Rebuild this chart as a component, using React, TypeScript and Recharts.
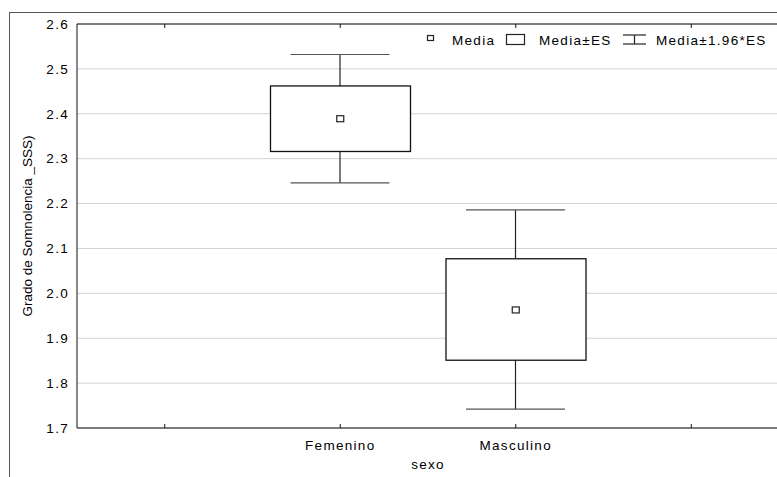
import { ComposedChart, Bar, Line, XAxis, YAxis, CartesianGrid, Legend } from 'recharts';

// categorías del eje X (las de los extremos quedan vacías)
const categories = ['_izq', 'Femenino', 'Masculino', '_der'];
const medias = [null, 2.389, 1.963, null];
const esLow = [null, 2.316, 1.851, null];
const esHigh = [null, 2.462, 2.077, null];
const ciLow = [null, 2.246, 1.742, null];
const ciHigh = [null, 2.532, 2.186, null];
const yTicks = [1.7, 1.8, 1.9, 2.0, 2.1, 2.2, 2.3, 2.4, 2.5, 2.6];

const data = categories.map((name, i) => ({
  name,
  media: medias[i],
  es: esLow[i] == null ? null : [esLow[i], esHigh[i]],
  ci: ciLow[i] == null ? null : [ciLow[i], ciHigh[i]],
}));

const FONT = '"Liberation Sans", Arial, sans-serif';
const tickStyle = { fill: '#000', fontSize: 13.5, fontFamily: FONT, letterSpacing: 1.3 };

const WhiskerShape = (p: any) => {
  if (!p.payload?.ci) return null;
  const { x, y, width, height } = p;
  const top = Math.min(y, y + height);
  const bot = Math.max(y, y + height);
  const cx = x + width / 2;
  return (
    <g stroke="#222" strokeWidth={1.2}>
      <line x1={cx} x2={cx} y1={top} y2={bot} />
      <line x1={x} x2={x + width} y1={top} y2={top} stroke="#555" />
      <line x1={x} x2={x + width} y1={bot} y2={bot} stroke="#555" />
    </g>
  );
};

const BoxShape = (p: any) => {
  if (!p.payload?.es) return null;
  const { x, y, width, height } = p;
  return (
    <rect x={x} y={Math.min(y, y + height)} width={width} height={Math.abs(height)}
      fill="#fff" stroke="#111" strokeWidth={1.3} />
  );
};

const MeanDot = (p: any) => {
  if (p.value == null || p.cy == null) return null;
  return <rect key={p.index} x={p.cx - 3.5} y={p.cy - 3} width={7} height={6} fill="#fff" stroke="#222" strokeWidth={1.2} />;
};

const LegendContent = () => (
  <svg width={357} height={24} style={{ display: 'block' }}>
    <g fontFamily={FONT} fontSize={13.5} letterSpacing={1.3} fill="#000">
      <rect x={7.5} y={9.5} width={6} height={5} fill="#fff" stroke="#222" strokeWidth={1.2} />
      <text x={32} y={19}>Media</text>
      <rect x={86.5} y={8.5} width={18} height={10} fill="#fff" stroke="#222" strokeWidth={1.2} />
      <text x={119} y={19}>Media±ES</text>
      <g stroke="#222" strokeWidth={1.2}>
        <line x1={203} x2={226} y1={9} y2={9} />
        <line x1={214.5} x2={214.5} y1={9} y2={18} />
        <line x1={203} x2={226} y1={18} y2={18} />
      </g>
      <text x={236} y={19}>Media±1.96*ES</text>
    </g>
  </svg>
);

export default function App() {
  return (
    <div style={{ position: 'fixed', left: 0, top: 0, width: 777, height: 477, overflow: 'hidden', background: '#fff' }}>
      <div style={{ position: 'absolute', left: 9, top: 12, width: 900, height: 600, border: '1px solid #555' }} />
      <div style={{ position: 'absolute', left: 0, top: 0 }}>
        <ComposedChart width={800} height={477} data={data} margin={{ top: 20, right: 21, bottom: 0, left: 0 }}>
          <CartesianGrid vertical={false} stroke="#d2d2d2" />
          <XAxis
            dataKey="name"
            height={49}
            tickSize={-4}
            tickMargin={16}
            interval={0}
            stroke="#111"
            tick={tickStyle}
            tickFormatter={(v: string) => (v.startsWith('_') ? '' : v)}
            label={{ value: 'sexo', position: 'center', dy: 12, fill: '#000', fontSize: 13.5, fontFamily: FONT, letterSpacing: 1.3 }}
          />
          <XAxis
            xAxisId="top"
            dataKey="name"
            orientation="top"
            height={4}
            tickSize={-4}
            interval={0}
            stroke="#111"
            tick={{ fontSize: 1, fill: 'none' }}
          />
          <YAxis
            type="number"
            domain={[1.7, 2.6]}
            ticks={yTicks}
            allowDataOverflow
            width={77}
            tickLine={false}
            tickSize={0}
            tickMargin={8}
            stroke="#111"
            tick={tickStyle}
            tickFormatter={(v: number) => v.toFixed(1)}
            label={{ value: 'Grado de Somnolencia _SSS)', angle: -90, position: 'center', dx: -11, fill: '#000', fontSize: 13.5, fontFamily: FONT }}
          />
          <YAxis
            yAxisId="r"
            orientation="right"
            type="number"
            domain={[1.7, 2.6]}
            ticks={yTicks}
            width={0}
            mirror
            tickSize={5}
            stroke="#111"
            tickFormatter={() => ''}
          />
          <Legend
            verticalAlign="middle"
            align="center"
            content={LegendContent}
            wrapperStyle={{ position: 'absolute', left: 420, top: 26, width: 357, height: 24 }}
          />
          <Bar xAxisId="top" dataKey="ci" barSize={99} shape={WhiskerShape} isAnimationActive={false} />
          <Bar dataKey="es" barSize={140} shape={BoxShape} isAnimationActive={false} />
          <Line dataKey="media" stroke="none" dot={MeanDot} activeDot={false} isAnimationActive={false} />
        </ComposedChart>
      </div>
    </div>
  );
}
